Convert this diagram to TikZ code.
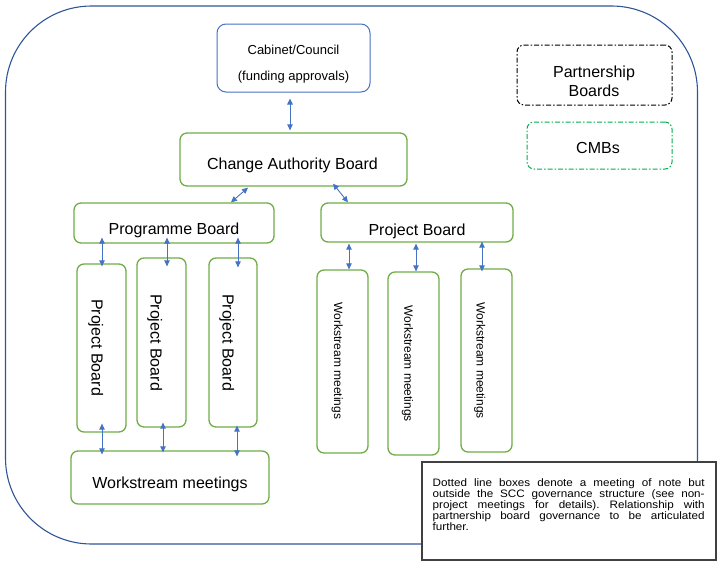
\documentclass[tikz,border=0pt]{standalone}
\usepackage{fontspec}
\setmainfont{Liberation Sans}
\newfontfamily\notefont[FakeStretch=1.08]{Liberation Sans}
\usetikzlibrary{arrows.meta,calc}
\definecolor{frameblue}{HTML}{2F5597}
\definecolor{cabblue}{HTML}{4472C4}
\definecolor{boxgreen}{HTML}{70AD47}
\definecolor{arrblue}{HTML}{4472C4}
\definecolor{cmbgreen}{HTML}{00B050}
\definecolor{notegray}{HTML}{404040}
\begin{document}
\begin{tikzpicture}[x=1pt,y=-1pt,
  frame/.style={draw=frameblue, line width=1.1pt, rounded corners=86pt, inner sep=0pt},
  gbox/.style={draw=boxgreen, line width=1.3pt, rounded corners=7pt, inner sep=0pt, fill=white},
  cabbox/.style={draw=cabblue, line width=1pt, rounded corners=9pt, inner sep=0pt},
  ddbox/.style={line width=1pt, rounded corners=7pt, inner sep=0pt, dash pattern=on 5pt off 2pt on 1.5pt off 2pt},
  notebox/.style={draw=notegray, line width=1.1pt, fill=white, inner sep=0pt},
  arr/.style={draw=arrblue, line width=0.9pt, {Triangle[length=6pt,width=5.5pt]}-{Triangle[length=6pt,width=5.5pt]}},
  bigtxt/.style={font=\fontsize{16}{19.2}\selectfont, inner sep=0pt, anchor=base},
  midtxt/.style={font=\fontsize{13}{15.6}\selectfont, inner sep=0pt, anchor=base},
  rotbig/.style={font=\fontsize{16}{19.2}\selectfont, inner sep=0pt, anchor=base, rotate=-90},
  rotsmall/.style={font=\fontsize{12}{14.4}\selectfont, inner sep=0pt, anchor=base, rotate=-90},
  notetxt/.style={font=\notefont\fontsize{10.8}{9}\selectfont, inner sep=0pt, anchor=north west, text width=272pt, align=justify}
]
\useasboundingbox (0,0) rectangle (721,573);

% outer frame
\node[frame, minimum width=692pt, minimum height=538pt] (frame) at (351.5,275) {};

% boxes
\node[cabbox, minimum width=153pt, minimum height=68pt] (cab) at (293.5,58) {};
\node[gbox, minimum width=227pt, minimum height=53pt] (cab2) at (293.5,159.5) {};
\node[gbox, minimum width=200pt, minimum height=40pt] (prog) at (174,223) {};
\node[gbox, minimum width=192pt, minimum height=39pt] (proj) at (417,222.5) {};
\node[gbox, minimum width=49pt, minimum height=168pt] (pb1) at (101.5,348) {};
\node[gbox, minimum width=49pt, minimum height=169pt] (pb2) at (161.5,342.5) {};
\node[gbox, minimum width=48pt, minimum height=169pt] (pb3) at (233,342.5) {};
\node[gbox, minimum width=198pt, minimum height=53pt] (wsl) at (170,477.5) {};
\node[gbox, minimum width=51pt, minimum height=183pt] (ws1) at (342.5,361.5) {};
\node[gbox, minimum width=51pt, minimum height=183pt] (ws2) at (413.5,363.5) {};
\node[gbox, minimum width=51pt, minimum height=183pt] (ws3) at (486.5,360.5) {};
\node[ddbox, draw=black, minimum width=155pt, minimum height=60pt] (partner) at (594.5,75) {};
\node[ddbox, draw=cmbgreen, minimum width=145pt, minimum height=47pt] (cmb) at (599.5,145.5) {};

% texts
\node[midtxt] (cabt1) at (293.5,54.7) {Cabinet/Council};
\node[midtxt] (cabt2) at (293.5,80.7) {(funding approvals)};
\node[bigtxt] (cab2t) at (292.5,169.7) {Change Authority Board};
\node[bigtxt] (progt) at (174,234.7) {Programme Board};
\node[bigtxt] (projt) at (417,235.5) {Project Board};
\node[bigtxt] (wslt) at (170,488.3) {Workstream meetings};
\node[bigtxt] (partt1) at (594,77.7) {Partnership};
\node[bigtxt] (partt2) at (594,96.7) {Boards};
\node[bigtxt] (cmbt) at (598,153.7) {CMBs};
\node[rotbig] (pb1t) at (91.7,347.5) {Project Board};
\node[rotbig] (pb2t) at (150.7,342.5) {Project Board};
\node[rotbig] (pb3t) at (222.7,342.5) {Project Board};
\node[rotsmall] (ws1t) at (334,361) {Workstream meetings};
\node[rotsmall] (ws2t) at (404.3,363.5) {Workstream meetings};
\node[rotsmall] (ws3t) at (476.7,360.5) {Workstream meetings};

% connectors
\draw[arr] ($(cab.south)+(-3.5,6)$) -- ($(cab2.north)+(-3.5,-2)$);
\draw[arr] ($(cab2.south)+(-45.5,1)$) -- ($(prog.north)+(57,0)$);
\draw[arr] ($(cab2.south)+(39.5,-3)$) -- ($(proj.north)+(-69,0)$);
\draw[arr] ($(prog.south)+(-72,-6)$) -- ($(pb1.north)+(0.5,3)$);
\draw[arr] ($(prog.south)+(-7,-6)$) -- ($(pb2.north)+(5.5,9)$);
\draw[arr] ($(prog.south)+(64,-6)$) -- ($(pb3.north)+(5,10)$);
\draw[arr] ($(pb1.south)+(0.5,-9)$) -- ($(wsl.north)+(-68,4)$);
\draw[arr] ($(pb2.south)+(1.5,-5)$) -- ($(wsl.north)+(-7,2)$);
\draw[arr] ($(pb3.south)+(4,-2)$) -- ($(wsl.north)+(67,6)$);
\draw[arr] ($(proj.south)+(-68,1)$) -- ($(ws1.north)+(6.5,0)$);
\draw[arr] ($(proj.south)+(-1,1)$) -- ($(ws2.north)+(2.5,0)$);
\draw[arr] ($(proj.south)+(65,-1)$) -- ($(ws3.north)+(-4.5,3)$);

% note
\node[notebox, minimum width=294pt, minimum height=98pt] (note) at (569,511) {};
\node[notetxt] (notet) at ($(note.north west)+(11,17)$) {\frenchspacing\tolerance=10000\hbadness=10000\lineskiplimit=-20pt\lineskip=0pt Dotted line boxes denote a meeting of note but\linebreak outside the SCC governance structure (see non-\linebreak project meetings for details). Relationship with\linebreak partnership board governance to be articulated\linebreak further.};
\end{tikzpicture}
\end{document}
